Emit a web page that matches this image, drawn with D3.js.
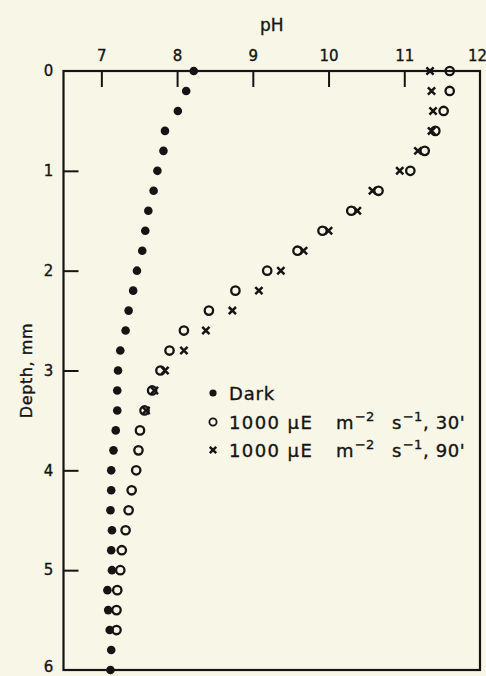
<!DOCTYPE html>
<html>
<head>
<meta charset="utf-8">
<script src="https://cdn.jsdelivr.net/npm/d3@7"></script>
<style>
  html, body { margin: 0; padding: 0; background: #f8f6e6; }
  svg { display: block; }
  text { font-family: "DejaVu Sans", sans-serif; fill: #141414; stroke: #141414; stroke-width: 0.35px; }
</style>
</head>
<body>
<svg id="chart" width="486" height="676"></svg>
<script>
// ---- data ----
const depthDark = [0, 0.2, 0.4, 0.6, 0.8, 1.0, 1.2, 1.4, 1.6, 1.8, 2.0, 2.2, 2.4, 2.6, 2.8, 3.0,
                   3.2, 3.4, 3.6, 3.8, 4.0, 4.2, 4.4, 4.6, 4.8, 5.0, 5.2, 5.4, 5.6, 5.8, 6.0];
const phDark = [8.22, 8.12, 8.01, 7.84, 7.82, 7.74, 7.69, 7.62, 7.58, 7.54, 7.47, 7.42, 7.36, 7.32, 7.25, 7.22,
                7.21, 7.21, 7.19, 7.16, 7.13, 7.13, 7.12, 7.14, 7.13, 7.14, 7.08, 7.09, 7.11, 7.13, 7.12];

const depth30 = [0, 0.2, 0.4, 0.6, 0.8, 1.0, 1.2, 1.4, 1.6, 1.8, 2.0, 2.2, 2.4, 2.6, 2.8, 3.0,
                 3.2, 3.4, 3.6, 3.8, 4.0, 4.2, 4.4, 4.6, 4.8, 5.0, 5.2, 5.4, 5.6];
const ph30 = [11.60, 11.60, 11.52, 11.41, 11.27, 11.08, 10.66, 10.30, 9.92, 9.59, 9.19, 8.77, 8.42, 8.09, 7.90, 7.78,
              7.67, 7.57, 7.51, 7.49, 7.46, 7.40, 7.36, 7.32, 7.27, 7.25, 7.21, 7.20, 7.20];

const depth90 = [0, 0.2, 0.4, 0.6, 0.8, 1.0, 1.2, 1.4, 1.6, 1.8, 2.0, 2.2, 2.4, 2.6, 2.8, 3.0, 3.2, 3.4];
const ph90 = [11.34, 11.36, 11.38, 11.36, 11.18, 10.94, 10.58, 10.38, 10.00, 9.67, 9.37, 9.08, 8.73, 8.38, 8.09, 7.84, 7.70, 7.59];

const xTicks = [7, 8, 9, 10, 11, 12];
const yTicks = [0, 1, 2, 3, 4, 5, 6];
const xTitle = "pH";
const yTitle = "Depth, mm";
// legend labels: [main, main, sup, main, sup, main] pieces
const legendLabels = [
  ["Dark"],
  ["1000 \u03BCE", "m", "\u22122", "s", "\u22121", ", 30'"],
  ["1000 \u03BCE", "m", "\u22122", "s", "\u22121", ", 90'"]
];

// ---- layout ----
const svg = d3.select("#chart");
const mLeft = 63.5, mRight = 480, mTop = 71, mBottom = 670;
const ink = "#141414";

const x = d3.scaleLinear().domain([6.5, 12]).range([mLeft, mRight]);
const y = d3.scaleLinear().domain([0, 6]).range([mTop, mBottom]);

// top axis (ticks inward)
const xAxis = d3.axisTop(x).tickValues(xTicks).tickSize(-16).tickPadding(0).tickFormat(d3.format("d"));
const gx = svg.append("g").attr("transform", `translate(0,${mTop})`).call(xAxis);
gx.select(".domain").remove();
gx.selectAll(".tick line").attr("stroke", ink).attr("stroke-width", 2)
  .filter(d => d === 12).remove();
gx.selectAll(".tick text").attr("y", -10).attr("font-size", 15)
  .attr("font-family", "DejaVu Sans, sans-serif").attr("fill", ink)
  .attr("dx", d => d === 12 ? -3 : 0);

// left axis (ticks inward)
const yAxis = d3.axisLeft(y).tickValues(yTicks).tickSize(-15).tickFormat(d3.format("d"));
const gy = svg.append("g").attr("transform", `translate(${mLeft},0)`).call(yAxis);
gy.select(".domain").remove();
gy.selectAll(".tick line").attr("stroke", ink).attr("stroke-width", 2)
  .filter(d => d === 0 || d === 6).remove();
gy.selectAll(".tick text").attr("x", -15).attr("text-anchor", "middle").attr("font-size", 15)
  .attr("font-family", "DejaVu Sans, sans-serif").attr("fill", ink)
  .attr("dy", d => d === 6 ? "0.1em" : "0.32em");

// frame
svg.append("rect").attr("x", mLeft).attr("y", mTop)
  .attr("width", mRight - mLeft).attr("height", mBottom - mTop)
  .attr("fill", "none").attr("stroke", ink).attr("stroke-width", 2.2);

// titles
svg.append("text").attr("x", (mLeft + mRight) / 2).attr("y", 31)
  .attr("text-anchor", "middle").attr("font-size", 17).text(xTitle);
svg.append("text").attr("transform", `translate(32,${(mTop + mBottom) / 2}) rotate(-90)`)
  .attr("text-anchor", "middle").attr("font-size", 16).attr("letter-spacing", 0.6).text(yTitle);

// ---- marks ----
const g = svg.append("g");
function drawX(sel, cx, cy, s) {
  sel.append("path")
    .attr("d", `M${cx - s},${cy - s}L${cx + s},${cy + s}M${cx - s},${cy + s}L${cx + s},${cy - s}`)
    .attr("stroke", ink).attr("stroke-width", 2.5).attr("fill", "none");
}

g.selectAll("circle.c30").data(depth30).join("circle").attr("class", "c30")
  .attr("cx", (d, i) => x(ph30[i])).attr("cy", d => y(d)).attr("r", 4.2)
  .attr("fill", "none").attr("stroke", ink).attr("stroke-width", 2.3);

depth90.forEach((d, i) => drawX(g, x(ph90[i]), y(d), 3.6));

g.selectAll("circle.dark").data(depthDark).join("circle").attr("class", "dark")
  .attr("cx", (d, i) => x(phDark[i])).attr("cy", d => y(d)).attr("r", 4.3)
  .attr("fill", ink);

// ---- legend ----
const lg = svg.append("g");
const lx = 213, ly = [393, 422, 450];
lg.append("circle").attr("cx", lx).attr("cy", ly[0]).attr("r", 3.6).attr("fill", ink);
lg.append("circle").attr("cx", lx).attr("cy", ly[1]).attr("r", 3.6).attr("fill", "none")
  .attr("stroke", ink).attr("stroke-width", 1.8);
drawX(lg, lx, ly[2], 3.2);

// piece start offsets relative to text start
const pieceX = [0, 107, 126, 163, 174, 194];
legendLabels.forEach((pieces, i) => {
  const base = ly[i] + 7;
  pieces.forEach((p, j) => {
    const sup = (j === 2 || j === 4);
    lg.append("text")
      .attr("x", 229 + pieceX[j]).attr("y", sup ? base - 8 : base)
      .attr("font-size", sup ? 13 : 18)
      .attr("letter-spacing", j === 0 ? (pieces.length > 1 ? 1.4 : 0.8) : (j === 5 ? 0.6 : 0))
      .text(p);
  });
});
</script>
</body>
</html>
